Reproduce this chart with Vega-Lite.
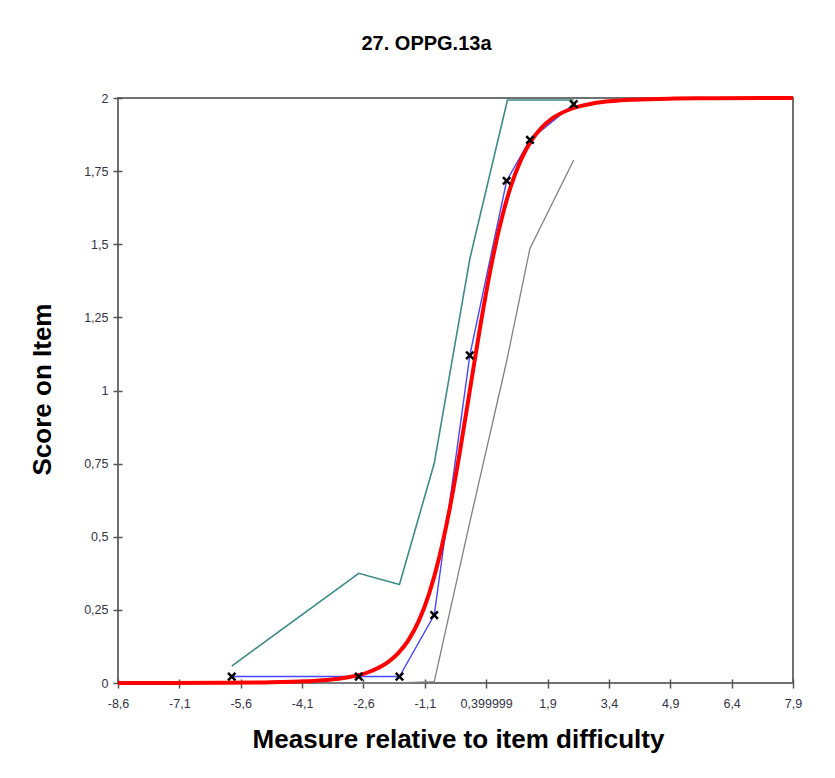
{
  "$schema": "https://vega.github.io/schema/vega-lite/v6.json",
  "width": 675,
  "height": 585,
  "autosize": "none",
  "padding": {"left": 118, "top": 98, "right": 42, "bottom": 95},
  "background": "white",
  "title": {"text": "27. OPPG.13a", "fontSize": 20, "font": "Liberation Sans", "fontWeight": "bold", "color": "#000000", "frame": "group", "anchor": "middle", "dx": -29, "offset": 36},
  "config": {
    "font": "Liberation Sans",
    "view": {"stroke": "#707070", "strokeWidth": 2},
    "axis": {"grid": false, "domain": false, "offset": -4, "tickSize": 9, "tickColor": "#555555", "tickWidth": 1.5, "labelFontSize": 12.5, "labelColor": "#333344", "labelFont": "Liberation Sans", "titleFont": "Liberation Sans", "titleFontSize": 26, "titleFontWeight": "bold", "titleColor": "#000000", "labelOverlap": false, "labelFlush": false}
  },
  "datasets": {
    "model": [
      {"m": -8.6, "s": 0.0001}, {"m": -6.0, "s": 0.0007}, {"m": -5.0, "s": 0.002}, {"m": -4.0, "s": 0.0059},
      {"m": -3.5, "s": 0.0104}, {"m": -3.0, "s": 0.0189}, {"m": -2.5, "s": 0.0359}, {"m": -2.0, "s": 0.0713},
      {"m": -1.75, "s": 0.102}, {"m": -1.5, "s": 0.1468}, {"m": -1.25, "s": 0.2115}, {"m": -1.0, "s": 0.3031},
      {"m": -0.75, "s": 0.4281}, {"m": -0.5, "s": 0.59}, {"m": -0.25, "s": 0.785}, {"m": 0.0, "s": 1.0},
      {"m": 0.25, "s": 1.215}, {"m": 0.5, "s": 1.41}, {"m": 0.75, "s": 1.5719}, {"m": 1.0, "s": 1.6969},
      {"m": 1.25, "s": 1.7885}, {"m": 1.5, "s": 1.8532}, {"m": 1.75, "s": 1.898}, {"m": 2.0, "s": 1.9287},
      {"m": 2.5, "s": 1.9641}, {"m": 3.0, "s": 1.9811}, {"m": 3.5, "s": 1.9896}, {"m": 4.0, "s": 1.9941},
      {"m": 5.0, "s": 1.998}, {"m": 6.0, "s": 1.9993}, {"m": 7.9, "s": 1.9999}
    ],
    "empirical": [
      {"m": -5.82, "s": 0.022}, {"m": -2.715, "s": 0.022}, {"m": -1.72, "s": 0.022}, {"m": -0.87, "s": 0.232},
      {"m": 0.0, "s": 1.12}, {"m": 0.9, "s": 1.717}, {"m": 1.47, "s": 1.857}, {"m": 2.54, "s": 1.979}
    ],
    "upper": [
      {"m": -5.82, "s": 0.058}, {"m": -2.715, "s": 0.375}, {"m": -1.72, "s": 0.337}, {"m": -0.87, "s": 0.751},
      {"m": 0.0, "s": 1.45}, {"m": 0.92, "s": 1.993}, {"m": 1.47, "s": 1.993}, {"m": 2.54, "s": 1.993}
    ],
    "lower": [
      {"m": -5.82, "s": 0.0}, {"m": -2.715, "s": 0.0}, {"m": -1.72, "s": 0.0}, {"m": -0.87, "s": 0.005},
      {"m": 0.0, "s": 0.55}, {"m": 0.9, "s": 1.1}, {"m": 1.47, "s": 1.486}, {"m": 2.54, "s": 1.788}
    ]
  },
  "encoding": {
    "x": {"field": "m", "type": "quantitative", "scale": {"domain": [-8.6, 7.9], "nice": false, "zero": false},
      "axis": {"values": [-8.6, -7.1, -5.6, -4.1, -2.6, -1.1, 0.4, 1.9, 3.4, 4.9, 6.4, 7.9],
        "labelExpr": "abs(datum.value - 0.4) < 0.01 ? '0,399999' : (datum.value < 0 ? '-' : '') + replace(format(abs(datum.value), '.1f'), '.', ',')",
        "labelPadding": 9, "title": "Measure relative to item difficulty", "titleX": 340, "titleY": 68, "titleBaseline": "alphabetic", "titleAlign": "center", "titleAnchor": "start"}},
    "y": {"field": "s", "type": "quantitative", "scale": {"domain": [0, 2], "nice": false},
      "axis": {"values": [0, 0.25, 0.5, 0.75, 1, 1.25, 1.5, 1.75, 2],
        "labelExpr": "replace(toString(datum.value), '.', ',')",
        "labelPadding": 5, "title": "Score on Item", "titleX": -72, "titleY": 291, "titleAngle": -90, "titleBaseline": "alphabetic", "titleAlign": "center", "titleAnchor": "start"}}
  },
  "layer": [
    {"data": {"name": "lower"}, "mark": {"type": "line", "color": "#808080", "strokeWidth": 1.3}},
    {"data": {"name": "upper"}, "mark": {"type": "line", "color": "#3d8b86", "strokeWidth": 1.6}},
    {"data": {"name": "empirical"}, "mark": {"type": "line", "color": "#4646ff", "strokeWidth": 1.4}},
    {"data": {"name": "model"}, "mark": {"type": "line", "color": "#ff0000", "strokeWidth": 4, "interpolate": "monotone"}},
    {"data": {"name": "empirical"}, "mark": {"type": "point", "shape": "M-1,-1L1,1M1,-1L-1,1", "filled": false, "stroke": "#000000", "strokeWidth": 2.5, "size": 55, "opacity": 1}}
  ]
}
